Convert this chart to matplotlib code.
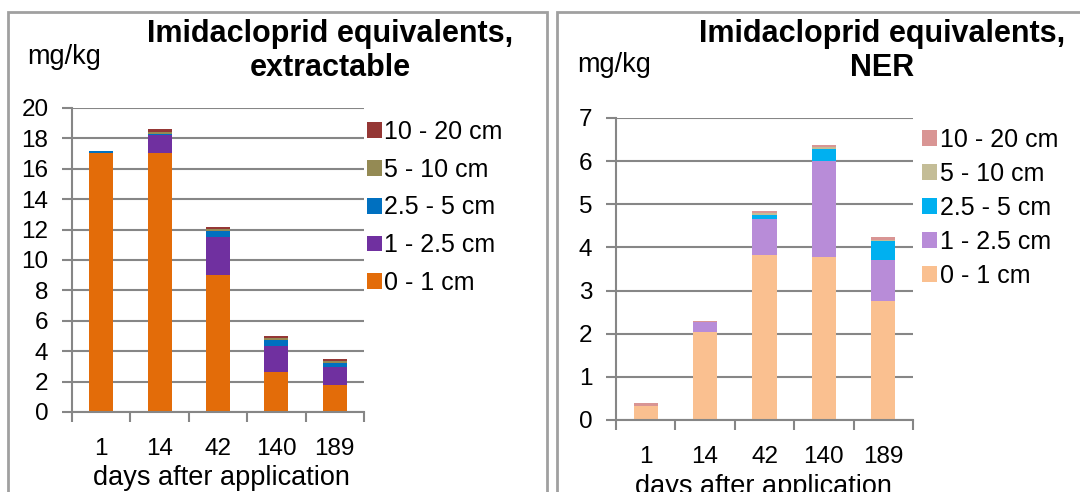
import numpy as np
import matplotlib
matplotlib.use("Agg")
import matplotlib.pyplot as plt
from matplotlib.patches import Rectangle

plt.rcParams['font.family'] = ['Liberation Sans', 'DejaVu Sans']

days = ['1', '14', '42', '140', '189']
layers = ['0 - 1 cm', '1 - 2.5 cm', '2.5 - 5 cm', '5 - 10 cm', '10 - 20 cm']

# extractable residues, mg/kg per soil layer
extr_0_1 = [17.05, 17.05, 9.0, 2.65, 1.75]
extr_1_25 = [0.02, 1.15, 2.5, 1.7, 1.2]
extr_25_5 = [0.1, 0.1, 0.4, 0.4, 0.28]
extr_5_10 = [0.02, 0.15, 0.12, 0.12, 0.12]
extr_10_20 = [0.01, 0.15, 0.15, 0.14, 0.12]

# non-extractable residues (NER), mg/kg per soil layer
ner_0_1 = [0.33, 2.05, 3.82, 3.77, 2.75]
ner_1_25 = [0.0, 0.21, 0.83, 2.23, 0.97]
ner_25_5 = [0.0, 0.0, 0.1, 0.28, 0.42]
ner_5_10 = [0.0, 0.01, 0.04, 0.05, 0.04]
ner_10_20 = [0.06, 0.03, 0.05, 0.04, 0.06]

extr_colors = ['#E36C09', '#7030A0', '#0070C0', '#948A54', '#953735']
ner_colors = ['#FAC090', '#B88CD8', '#00B0F0', '#C4BD97', '#D99594']

W, H = 1080, 492
fig = plt.figure(figsize=(W / 100, H / 100), dpi=100)
grid_c = '#868686'


def fx(px):
    return px / W


def fy(py):
    return 1 - py / H


def panel(box, series, colors, ymax, title, title_xy, unit_xy, leg_xy, leg_space, xlab_xy, xpad):
    l, t, r, b = box
    ax = fig.add_axes([fx(l), fy(b), fx(r) - fx(l), fy(t) - fy(b)])
    x = np.arange(len(days)) + 0.5
    bottom = np.zeros(len(days))
    handles = []
    for vals, lab, c in zip(series, layers, colors):
        bc = ax.bar(x, vals, 0.41, bottom=bottom, color=c, label=lab)
        handles.append(bc)
        bottom += np.array(vals)
    ax.set_xlim(0, len(days))
    ax.set_ylim(0, ymax)
    ax.set_yticks(range(0, ymax + 1, 2 if ymax > 10 else 1))
    ax.yaxis.grid(True, color=grid_c, lw=1.5)
    ax.set_axisbelow(True)
    ax.set_xticks(range(len(days) + 1))
    ax.set_xticklabels([])
    ax.set_xticks(x, minor=True)
    ax.set_xticklabels(days, minor=True)
    ax.tick_params(axis='x', which='minor', length=0, pad=xpad, labelsize=17.5)
    ax.tick_params(axis='x', which='major', length=7, width=1.5, color=grid_c, direction='out')
    ax.tick_params(axis='y', length=7, width=1.5, color=grid_c, pad=10, labelsize=17.5)
    for s in ['top', 'right']:
        ax.spines[s].set_visible(False)
    for s in ['left', 'bottom']:
        ax.spines[s].set_color(grid_c)
        ax.spines[s].set_linewidth(1.5)
    fig.text(fx(title_xy[0]), fy(title_xy[1]), title, ha='center', va='center',
             fontsize=22, fontweight='bold', linespacing=1.15)
    fig.text(fx(unit_xy[0]), fy(unit_xy[1]), 'mg/kg', ha='left', va='center', fontsize=19.5)
    fig.text(fx(xlab_xy[0]), fy(xlab_xy[1]), 'days after application', ha='center',
             va='center', fontsize=19.5)
    ax.legend(handles[::-1], layers[::-1], loc='upper left',
              bbox_to_anchor=(fx(leg_xy[0]), fy(leg_xy[1])), bbox_transform=fig.transFigure,
              frameon=False, fontsize=18, handlelength=0.6, handleheight=0.6,
              handletextpad=0.1, labelspacing=leg_space, borderpad=0, borderaxespad=0)
    return ax


panel((72, 108, 364, 412),
      [extr_0_1, extr_1_25, extr_25_5, extr_5_10, extr_10_20], extr_colors, 20,
      'Imidacloprid equivalents,\nextractable', (330, 51), (27, 57), (367, 120), 0.55,
      (221, 478), 19)

panel((616, 118, 913, 420),
      [ner_0_1, ner_1_25, ner_25_5, ner_5_10, ner_10_20], ner_colors, 7,
      'Imidacloprid equivalents,\nNER', (882, 51), (577, 65), (922, 128), 0.40,
      (763, 487), 19)

# panel frames
frame_c = '#A0A0A0'
fig.patches.append(Rectangle((fx(8), fy(520)), fx(547) - fx(8), fy(12) - fy(520),
                             transform=fig.transFigure, fill=False, ec=frame_c, lw=2))
fig.patches.append(Rectangle((fx(557), fy(520)), fx(1110) - fx(557), fy(12) - fy(520),
                             transform=fig.transFigure, fill=False, ec=frame_c, lw=2))

fig.savefig('out.png', dpi=100)
